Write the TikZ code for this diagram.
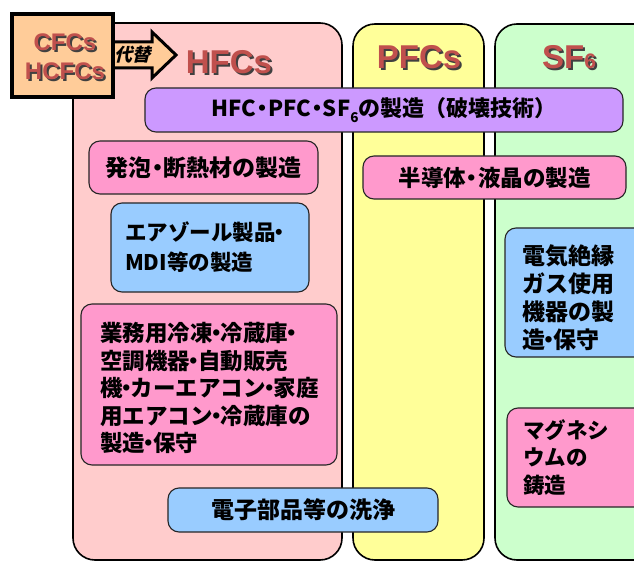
\documentclass[tikz,border=0pt]{standalone}
\usepackage{fontspec}
\setmainfont{Liberation Sans}
\newfontfamily\jp{Noto Sans CJK JP}
\newfontfamily\jpsl{Noto Sans CJK JP}[FakeSlant=0.25]
\newfontfamily\hd{Liberation Sans}
\definecolor{colpink}{HTML}{FFCCCC}
\definecolor{colyellow}{HTML}{FFFF99}
\definecolor{colgreen}{HTML}{CCFFCC}
\definecolor{boxpurple}{HTML}{CC99FF}
\definecolor{boxpink}{HTML}{FF99CC}
\definecolor{boxblue}{HTML}{99CCFF}
\definecolor{boxorange}{HTML}{FFCC99}
\definecolor{headred}{HTML}{C0504D}
\newcommand\shtext[1]{\makebox[0pt][l]{\kern2pt\smash{\raisebox{-2pt}{\color{black!75}#1}}}#1}
\newcommand\jdot{\makebox[8pt][c]{・}}
\newcommand\jdotw{\makebox[12pt][c]{・}}
\begin{document}
\begin{tikzpicture}[x=1pt,y=-1pt,
  col/.style={draw=black, line width=1.6pt, rounded corners=22pt},
  ibox/.style={draw=black!85, line width=1.1pt, rounded corners=11pt, inner sep=0pt,
    font=\jp\bfseries\fontsize{23}{28}\selectfont},
  lbox/.style={ibox, align=left, inner ysep=0pt},
  head/.style={font=\hd\bfseries\fontsize{33}{33}\selectfont, text=headred, inner sep=0pt},
  small/.style={font=\hd\bfseries\fontsize{24}{24}\selectfont, text=headred, inner sep=0pt}
]
\useasboundingbox (0,0) rectangle (634,561);
\clip (0,0) rectangle (634,561);
\fill[white] (0,0) rectangle (634,561);

% columns
\draw[col, fill=colpink] (73,23) rectangle (342,560);
\draw[col, fill=colyellow] (353,24) rectangle (484,560);
\draw[col, fill=colgreen] (495,24) rectangle (680,560);

% arrow and source box
\draw[line width=3pt, fill=boxorange, line join=miter]
  (110,42) -- (152,42) -- (152,32) -- (176,55) -- (152,78) -- (152,68) -- (110,68) -- cycle;
\node[draw=black, line width=3.2pt, fill=boxorange, minimum width=101pt, minimum height=83pt, inner sep=0pt] (src) at (62.5,55.5) {};
\node[font=\jpsl\bfseries\fontsize{18}{18}\selectfont, inner sep=0pt] (subst) at (132,55) {代替};

% headings with shadow
\node[small, align=center, font=\hd\bfseries\fontsize{24}{29}\selectfont] (cfc) at (65,57) {\shtext{CFCs}\\\shtext{HCFCs}};

\node[head] (hfc) at (229,62.5) {\shtext{HFCs}};
\node[head] (pfc) at (419,57.5) {\shtext{PFCs}};
\node[head] (sf) at (569,57.5) {\shtext{SF{\fontsize{21}{21}\selectfont 6}}};

% purple box
\node[ibox, fill=boxpurple, minimum width=478pt, minimum height=44pt,
  font=\jp\bfseries\fontsize{22}{22}\selectfont] (destroy) at (384,110)
  {HFC\jdotw PFC\jdotw SF\raisebox{-0.25em}{\fontsize{13.5}{13.5}\selectfont 6}の製造（破壊技術）};

% HFC boxes
\node[ibox, fill=boxpink, minimum width=229pt, minimum height=53pt] (foam) at (203.5,167.5) {発泡\jdotw 断熱材の製造};
\node[lbox, fill=boxblue, text width=170pt, inner xsep=14pt, minimum height=89pt,
  font=\jp\bfseries\fontsize{21.5}{30}\selectfont] (aero) at (210,247.5)
  {エアゾール製品\jdot\\MDI等の製造};
\node[lbox, fill=boxpink, text width=218pt, inner xsep=19pt, minimum height=161pt,
  font=\jp\bfseries\fontsize{22.5}{27.5}\selectfont] (refr) at (209,384.5)
  {\rule{0pt}{27pt}業務用冷凍\jdot 冷蔵庫\jdot\\空調機器\jdot 自動販売\\機\jdot カーエアコン\jdot 家庭\\用エアコン\jdot 冷蔵庫の\\製造\jdot 保守};
\node[ibox, fill=boxblue, minimum width=270pt, minimum height=44pt] (clean) at (303,510) {電子部品等の洗浄};

% PFC box
\node[ibox, fill=boxpink, minimum width=263pt, minimum height=43pt, font=\jp\bfseries\fontsize{22.5}{28}\selectfont] (semi) at (494.5,177.5) {半導体\jdotw 液晶の製造};

% SF6 boxes
\node[lbox, fill=boxblue, text width=106pt, inner xsep=17pt, minimum height=129pt,
  font=\jp\bfseries\fontsize{23}{28}\selectfont] (gis) at (575,292.5)
  {\rule{0pt}{30pt}電気絶縁\\ガス使用\\機器の製\\造\jdot 保守};
\node[lbox, fill=boxpink, text width=106pt, inner xsep=16pt, minimum height=99pt,
  font=\jp\bfseries\fontsize{21.5}{27.5}\selectfont] (mag) at (576,457.5)
  {マグネシ\\ウムの\\鋳造};
\end{tikzpicture}
\end{document}
